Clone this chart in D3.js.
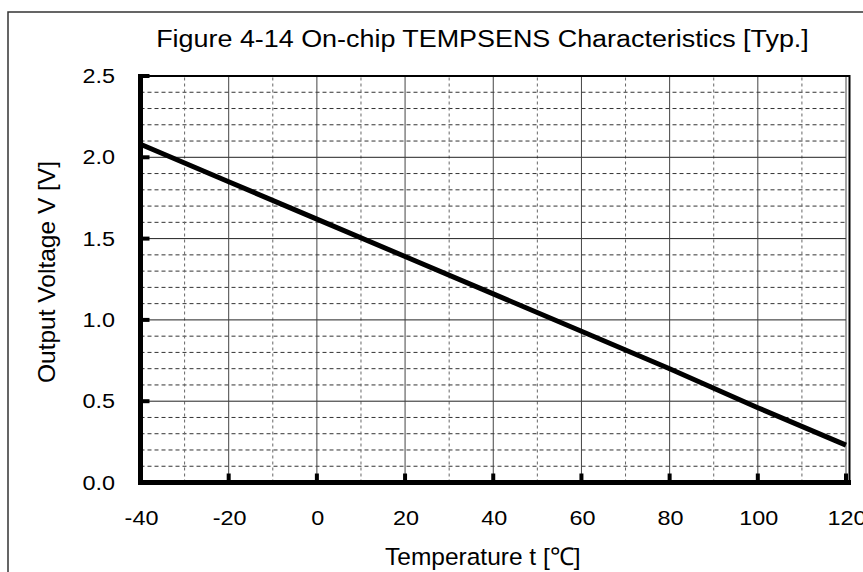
<!DOCTYPE html>
<html><head><meta charset="utf-8">
<script src="https://cdn.jsdelivr.net/npm/d3@7"></script>
<style>body{margin:0;background:#fff}svg{display:block}text{font-family:"Liberation Sans",Arial,sans-serif;fill:#000}</style>
</head><body>
<script>
const temps = [-40, -20, 0, 20, 40, 60, 80, 100, 120];
const volts = [2.08, 1.85, 1.62, 1.39, 1.16, 0.93, 0.70, 0.46, 0.23];
const xTicks = [-40, -20, 0, 20, 40, 60, 80, 100, 120];
const yTicks = [0.0, 0.5, 1.0, 1.5, 2.0, 2.5];
const title = "Figure 4-14 On-chip TEMPSENS Characteristics [Typ.]";
const xTitle = "Temperature t [\u2103]";
const yTitle = "Output Voltage V [V]";

const W = 863, H = 572;
const svg = d3.select("body").append("svg").attr("width", W).attr("height", H);
const x = d3.scaleLinear().domain([-40, 120]).range([140.5, 846]);
const y = d3.scaleLinear().domain([0, 2.5]).range([482.5, 76]);

// outer frame
svg.append("path").attr("d", `M8,${H+5} L8,12 L${W+5},12`).attr("fill", "none").attr("stroke", "#333").attr("stroke-width", 1.5);

const g = svg.append("g");
// minor grid
const xMinor = d3.range(-30, 120, 20);
const yMinor = d3.range(0, 25).map(i => i / 10).filter(v => Math.round(v * 10) % 5 !== 0);
g.selectAll(".hm").data(yMinor).join("line")
  .attr("x1", x(-40)).attr("x2", x(120)).attr("y1", d => y(d)).attr("y2", d => y(d))
  .attr("stroke", "#333").attr("stroke-width", 1).attr("stroke-dasharray", "4,3");
g.selectAll(".vm").data(xMinor).join("line")
  .attr("x1", d => x(d)).attr("x2", d => x(d)).attr("y1", y(0)).attr("y2", y(2.5))
  .attr("stroke", "#666").attr("stroke-width", 1).attr("stroke-dasharray", "3,3");
// major grid
g.selectAll(".hM").data(yTicks).join("line")
  .attr("x1", x(-40)).attr("x2", x(120)).attr("y1", d => y(d)).attr("y2", d => y(d))
  .attr("stroke", "#222").attr("stroke-width", 1);
g.selectAll(".vM").data(xTicks).join("line")
  .attr("x1", d => x(d)).attr("x2", d => x(d)).attr("y1", y(0)).attr("y2", y(2.5))
  .attr("stroke", "#444").attr("stroke-width", 1);

// plot frame top/right
g.append("path").attr("d", `M${x(-40)},${y(2.5)} L849.5,${y(2.5)} L849.5,${y(0)}`)
  .attr("fill", "none").attr("stroke", "#000").attr("stroke-width", 2);

// axes thick
g.append("line").attr("x1", x(-40)).attr("x2", x(-40)).attr("y1", y(2.5) - 2).attr("y2", y(0) + 2.5)
  .attr("stroke", "#000").attr("stroke-width", 5);
g.append("line").attr("x1", x(-40) - 2.5).attr("x2", 851).attr("y1", y(0)).attr("y2", y(0))
  .attr("stroke", "#000").attr("stroke-width", 5);
// ticks
g.selectAll(".xt").data(xTicks.slice(1)).join("line")
  .attr("x1", d => x(d)).attr("x2", d => x(d)).attr("y1", y(0)).attr("y2", y(0) - 9)
  .attr("stroke", "#000").attr("stroke-width", 4);
g.selectAll(".yt").data(yTicks.slice(1)).join("line")
  .attr("x1", x(-40)).attr("x2", x(-40) + 9).attr("y1", d => y(d)).attr("y2", d => y(d))
  .attr("stroke", "#000").attr("stroke-width", 4);

// data line
g.append("path").datum(temps.map((t, i) => [t, volts[i]]))
  .attr("d", d3.line().x(d => x(d[0])).y(d => y(d[1])))
  .attr("fill", "none").attr("stroke", "#000").attr("stroke-width", 5);

// tick labels
const sx = 1.2;
svg.selectAll(".xl").data(xTicks).join("text")
  .attr("transform", d => `translate(${x(d) + 1},525) scale(${sx},1)`)
  .attr("text-anchor", "middle").attr("font-size", 19.5).text(d => d);
svg.selectAll(".yl").data(yTicks).join("text")
  .attr("transform", d => `translate(115,${y(d) + 7}) scale(${sx},1)`)
  .attr("text-anchor", "end").attr("font-size", 19.5).text(d => d.toFixed(1));

// titles
svg.append("text").attr("transform", "translate(482.5,47) scale(1.17,1)")
  .attr("text-anchor", "middle").attr("font-size", 23).text(title);
svg.append("text").attr("x", 385).attr("y", 565).attr("font-size", 24.5).text(xTitle);
svg.append("text").attr("transform", "translate(55,272) rotate(-90)")
  .attr("text-anchor", "middle").attr("font-size", 24.5).text(yTitle);
</script>
</body></html>
